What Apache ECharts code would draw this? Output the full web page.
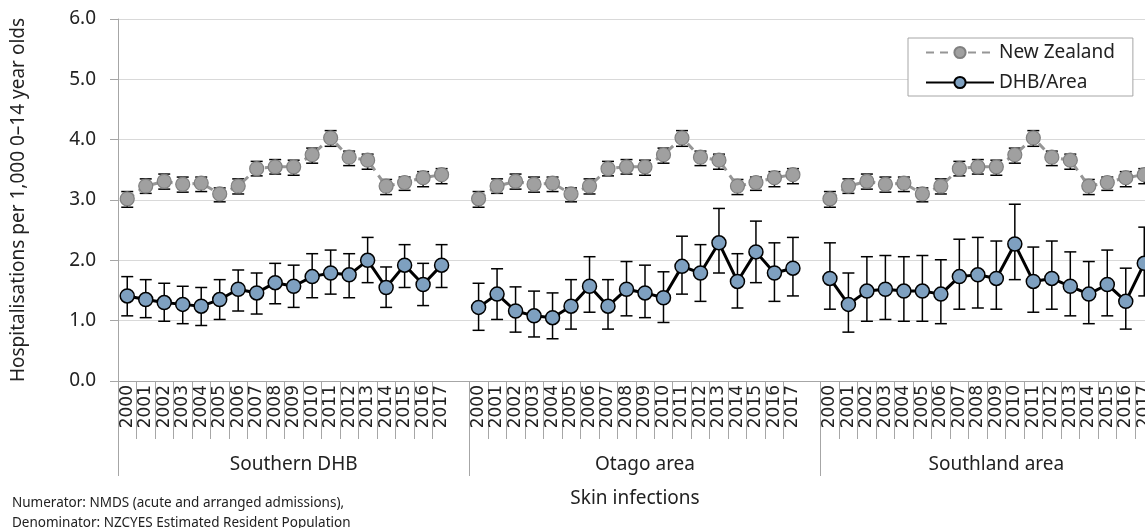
<!DOCTYPE html>
<html>
<head>
<meta charset="utf-8">
<script src="https://cdn.jsdelivr.net/npm/echarts@6/dist/echarts.min.js"></script>
<style>
html,body{margin:0;padding:0;background:#fff;}
#chart{width:1145px;height:528px;}
</style>
</head>
<body>
<div id="chart"></div>
<script>
const years = ['2000','2001','2002','2003','2004','2005','2006','2007','2008','2009','2010','2011','2012','2013','2014','2015','2016','2017'];
const groups = ['Southern DHB','Otago area','Southland area'];
const yTicks = [0,1,2,3,4,5,6];

const nzRate = [3.02,3.23,3.31,3.26,3.28,3.10,3.23,3.52,3.55,3.55,3.75,4.03,3.71,3.66,3.23,3.29,3.37,3.42];
const nzLow  = [2.88,3.11,3.18,3.13,3.14,2.97,3.10,3.40,3.43,3.41,3.61,3.89,3.57,3.51,3.09,3.16,3.22,3.27];
const nzHigh = [3.14,3.35,3.43,3.38,3.38,3.20,3.35,3.64,3.67,3.66,3.86,4.15,3.81,3.76,3.34,3.38,3.47,3.52];

const southernRate = [1.41,1.35,1.30,1.27,1.24,1.35,1.52,1.46,1.63,1.57,1.73,1.79,1.76,2.00,1.55,1.92,1.60,1.92];
const southernLow  = [1.08,1.05,0.99,0.95,0.92,1.02,1.16,1.11,1.28,1.22,1.38,1.44,1.38,1.63,1.22,1.55,1.25,1.55];
const southernHigh = [1.73,1.68,1.62,1.57,1.55,1.68,1.84,1.79,1.95,1.92,2.11,2.17,2.11,2.38,1.89,2.26,1.95,2.26];

const otagoRate = [1.22,1.44,1.16,1.08,1.05,1.24,1.57,1.24,1.52,1.46,1.38,1.90,1.79,2.29,1.65,2.14,1.79,1.87];
const otagoLow  = [0.84,1.02,0.81,0.73,0.70,0.86,1.14,0.86,1.08,1.05,0.97,1.44,1.32,1.79,1.21,1.63,1.32,1.41];
const otagoHigh = [1.62,1.86,1.56,1.49,1.46,1.68,2.06,1.68,1.98,1.92,1.81,2.40,2.26,2.86,2.11,2.65,2.29,2.38];

const southlandRate = [1.70,1.27,1.49,1.52,1.49,1.49,1.44,1.73,1.76,1.70,2.27,1.65,1.70,1.57,1.44,1.60,1.32,1.95];
const southlandLow  = [1.19,0.81,0.99,1.02,0.99,0.99,0.95,1.19,1.21,1.19,1.68,1.14,1.19,1.08,0.95,1.08,0.86,1.41];
const southlandHigh = [2.29,1.79,2.06,2.08,2.06,2.08,2.01,2.35,2.38,2.32,2.93,2.22,2.32,2.14,1.98,2.17,1.87,2.55];

const dhbSets = [
  [southernRate, southernLow, southernHigh],
  [otagoRate, otagoLow, otagoHigh],
  [southlandRate, southlandLow, southlandHigh]
];

// Build category axis: each group = 18 years + one blank spacer
const xData = [];
const nzLine = [], dhbLine = [], nzErr = [], dhbErr = [];
groups.forEach((g, gi) => {
  years.forEach((y, yi) => {
    const idx = xData.length;
    xData.push(y);
    nzLine.push(nzRate[yi]);
    dhbLine.push(dhbSets[gi][0][yi]);
    nzErr.push([idx, nzLow[yi], nzHigh[yi]]);
    dhbErr.push([idx, dhbSets[gi][1][yi], dhbSets[gi][2][yi]]);
  });
  xData.push('');
  nzLine.push(null);
  dhbLine.push(null);
});

function errRender(params, api) {
  const lo = api.coord([api.value(0), api.value(1)]);
  const hi = api.coord([api.value(0), api.value(2)]);
  const w = 6;
  const st = {stroke: '#000', lineWidth: 1.5};
  return {
    type: 'group',
    children: [
      {type: 'line', shape: {x1: lo[0], y1: lo[1], x2: hi[0], y2: hi[1]}, style: st},
      {type: 'line', shape: {x1: lo[0]-w, y1: lo[1], x2: lo[0]+w, y2: lo[1]}, style: st},
      {type: 'line', shape: {x1: hi[0]-w, y1: hi[1], x2: hi[0]+w, y2: hi[1]}, style: st}
    ]
  };
}

const FONT = 'Noto Sans';
const chart = echarts.init(document.getElementById('chart'), null, {renderer: 'canvas'});
chart.setOption({
  animation: false,
  backgroundColor: '#fff',
  textStyle: {fontFamily: FONT, color: '#222'},
  grid: {left: 118, width: 1054, top: 19, bottom: 147, containLabel: false, outerBoundsMode: 'none'},
  title: [
    {text: 'Skin infections', left: 635, top: 489, textAlign: 'center', padding: 0,
     textStyle: {fontFamily: FONT, fontSize: 19, fontWeight: 'normal', color: '#222'}},
    {text: 'Numerator: NMDS (acute and arranged admissions),\nDenominator: NZCYES Estimated Resident Population',
     left: 12, top: 493, padding: 0,
     textStyle: {fontFamily: FONT, fontSize: 13.5, fontWeight: 'normal', color: '#222', lineHeight: 20}}
  ],
  legend: {
    orient: 'vertical', left: 908, top: 38,
    padding: [5, 18, 4, 17], itemGap: 11,
    itemWidth: 68, itemHeight: 14,
    backgroundColor: '#fff', borderColor: '#a6a6a6', borderWidth: 1,
    textStyle: {fontFamily: FONT, fontSize: 19, color: '#222'},
    data: ['New Zealand', 'DHB/Area']
  },
  xAxis: [
    {
      type: 'category', data: xData, position: 'bottom',
      axisLine: {show: true, lineStyle: {color: '#a6a6a6', width: 1}},
      axisTick: {show: true, length: 58, lineStyle: {color: '#a6a6a6'},
        interval: function (i) { const m = i % 19; return m >= 1 && m <= 17; }},
      axisLabel: {interval: 0, rotate: 90, margin: 4, fontFamily: 'DejaVu Sans', fontSize: 17, color: '#222'},
      splitLine: {show: false}
    },
    {
      type: 'category', data: groups, position: 'bottom',
      axisLine: {show: false},
      axisTick: {show: true, length: 95, lineStyle: {color: '#a6a6a6'}},
      axisLabel: {interval: 0, margin: 74, fontFamily: FONT, fontSize: 19, color: '#222'},
      splitLine: {show: false}
    }
  ],
  yAxis: {
    type: 'value', min: yTicks[0], max: yTicks[yTicks.length - 1], interval: 1,
    name: 'Hospitalisations per 1,000 0\u201314 year olds',
    nameLocation: 'middle', nameGap: 90,
    nameTextStyle: {fontFamily: FONT, fontSize: 19, color: '#222'},
    axisLine: {show: true, lineStyle: {color: '#a6a6a6', width: 1}},
    axisTick: {show: true, length: 8, lineStyle: {color: '#a6a6a6'}},
    axisLabel: {margin: 22, fontFamily: FONT, fontSize: 19, color: '#222',
      formatter: v => v.toFixed(1)},
    splitLine: {show: true, lineStyle: {color: '#d9d9d9', width: 1}}
  },
  series: [
    {
      name: 'nzErr', type: 'custom', renderItem: errRender, data: nzErr,
      encode: {x: 0, y: [1, 2]}, z: 2, silent: true
    },
    {
      name: 'dhbErr', type: 'custom', renderItem: errRender, data: dhbErr,
      encode: {x: 0, y: [1, 2]}, z: 2, silent: true
    },
    {
      name: 'New Zealand', type: 'line', data: nzLine, connectNulls: false,
      symbol: 'circle', symbolSize: 14, z: 3,
      lineStyle: {color: '#969696', width: 3, type: [8, 6]},
      itemStyle: {color: '#a0a0a0', borderColor: '#808080', borderWidth: 1.2}
    },
    {
      name: 'DHB/Area', type: 'line', data: dhbLine, connectNulls: false,
      symbol: 'circle', symbolSize: 14, z: 4,
      lineStyle: {color: '#000', width: 3},
      itemStyle: {color: '#7ea0c0', borderColor: '#000', borderWidth: 1.5}
    }
  ]
});
</script>
</body>
</html>
